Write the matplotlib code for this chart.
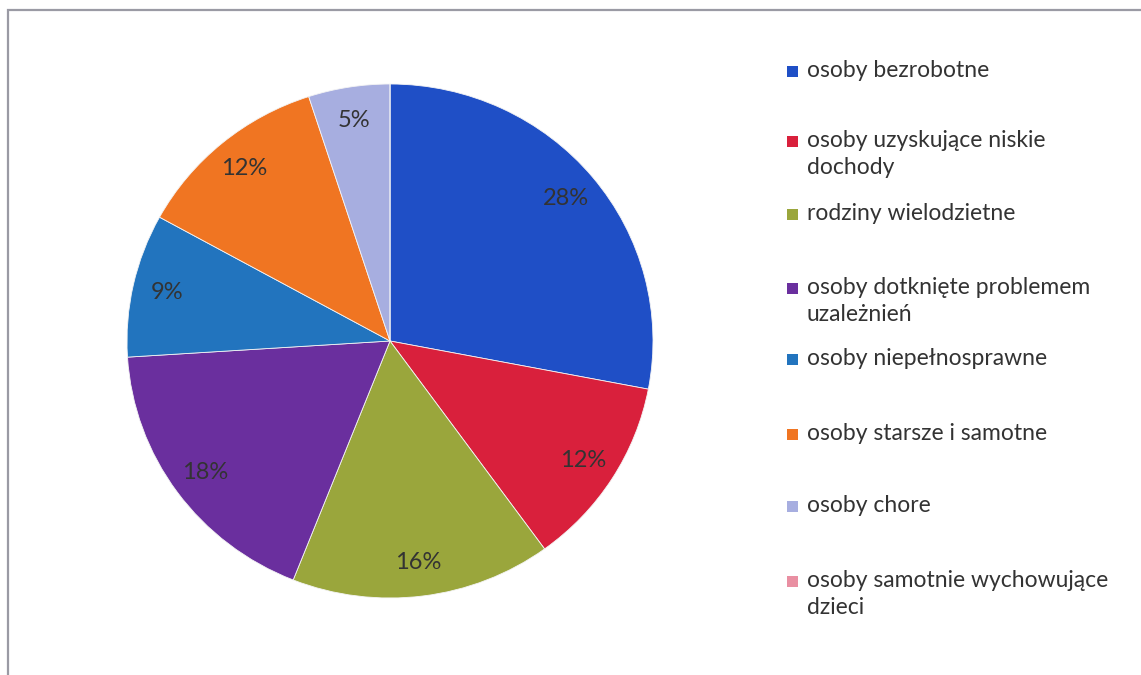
import matplotlib.pyplot as plt
from matplotlib.patches import Rectangle

plt.rcParams['font.family'] = ['Lato', 'DejaVu Sans']

# data
labels = ["osoby bezrobotne",
          "osoby uzyskujące niskie\ndochody",
          "rodziny wielodzietne",
          "osoby dotknięte problemem\nuzależnień",
          "osoby niepełnosprawne",
          "osoby starsze i samotne",
          "osoby chore",
          "osoby samotnie wychowujące\ndzieci"]
values = [28, 12, 16, 18, 9, 12, 5, 0]
colors = ["#1f4fc6", "#d9203c", "#9aa63c", "#6a2f9e",
          "#2274be", "#f07522", "#a7aee0", "#e98fa2"]

W, H = 1141, 675
fig = plt.figure(figsize=(W / 100, H / 100), dpi=100)

# frame
fig.patches.append(Rectangle((8 / W, -0.05), 1.1, 1 - 10 / H + 0.05,
                             transform=fig.transFigure, fill=False,
                             edgecolor="#9a9aa4", linewidth=1.6))

# pie (scan is slightly wider than tall)
cx, cy, rx, ry = 390, 341, 263, 257
ax = fig.add_axes([(cx - rx) / W, (H - cy - ry) / H, 2 * rx / W, 2 * ry / H])
wedges, texts, autotexts = ax.pie(
    values, colors=colors, startangle=90, counterclock=False,
    autopct=lambda p: f"{p:.0f}%" if p > 0.5 else "",
    pctdistance=0.87, radius=1.0,
    wedgeprops=dict(edgecolor="#f4f4f4", linewidth=0.6),
    textprops=dict(fontsize=17, color="#333333"))
ax.set_aspect('auto')
ax.set_xlim(-1, 1)
ax.set_ylim(-1, 1)

# legend
leg_y = [71, 141, 214, 288, 359, 434, 506, 581]
for lab, col, y in zip(labels, colors, leg_y):
    fig.patches.append(Rectangle((787 / W, 1 - (y + 6) / H), 11 / W, 11 / H,
                                 transform=fig.transFigure, facecolor=col,
                                 edgecolor='none'))
    fig.text(807 / W, 1 - (y - 11) / H, lab, fontsize=16.5, color="#333333",
             va='top', ha='left', linespacing=1.38)

fig.savefig("out.png", dpi=100)
